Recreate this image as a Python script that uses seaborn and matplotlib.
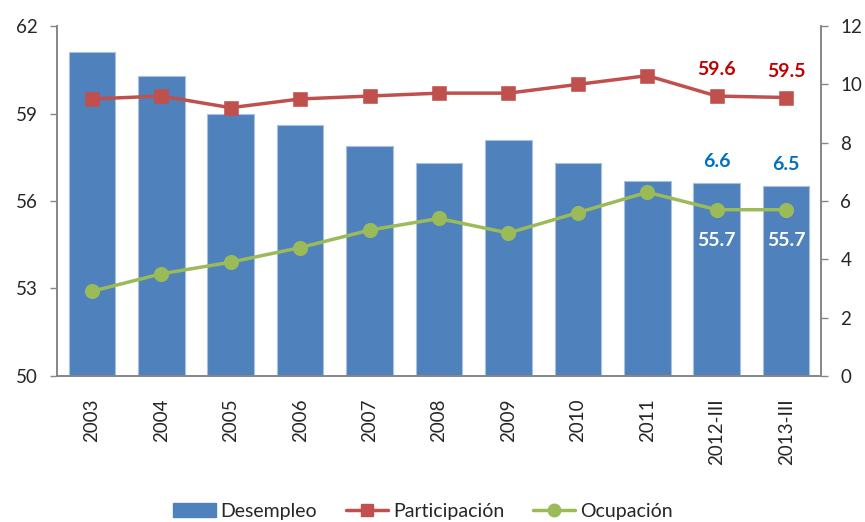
import numpy as np
import pandas as pd
import matplotlib
matplotlib.use("Agg")
import matplotlib.pyplot as plt
from matplotlib.patches import Patch
from matplotlib.lines import Line2D
import seaborn as sns

# Data
categories = ["2003", "2004", "2005", "2006", "2007", "2008", "2009",
              "2010", "2011", "2012-III", "2013-III"]
desempleo = [11.1, 10.3, 9.0, 8.6, 7.9, 7.3, 8.1, 7.3, 6.7, 6.6, 6.5]
participacion = [59.5, 59.6, 59.2, 59.5, 59.6, 59.7, 59.7, 60.0, 60.3, 59.6, 59.55]
ocupacion = [52.9, 53.5, 53.9, 54.4, 55.0, 55.4, 54.9, 55.6, 56.3, 55.7, 55.7]

left_ticks = [50, 53, 56, 59, 62]
right_ticks = [0, 2, 4, 6, 8, 10, 12]

# labels shown on the last two periods
label_idx = [9, 10]
label_part = ["59.6", "59.5"]
label_des = ["6.6", "6.5"]
label_ocu = ["55.7", "55.7"]

BLUE = "#4F81BD"
RED = "#C0504D"
GREEN = "#9BBB59"
GRAY = "#868686"

df = pd.DataFrame({"periodo": categories, "Desempleo": desempleo,
                   "Participacion": participacion, "Ocupacion": ocupacion})

sns.set_style("white")
plt.rcParams["font.family"] = ["Lato", "DejaVu Sans"]

fig = plt.figure(figsize=(8.65, 5.22), dpi=100)
ax = fig.add_axes([0.066, 0.280, 0.883, 0.670])

# bars on the right-hand axis (0-12)
sns.barplot(data=df, x="periodo", y="Desempleo", color=BLUE, saturation=1,
            width=0.67, edgecolor="#A9C1DF", linewidth=0.8, ax=ax)

# lines on the left-hand axis (50-62)
ax2 = ax.twinx()
sns.pointplot(data=df, x="periodo", y="Participacion", color=RED,
              markers="s", markersize=9, linewidth=2.5, ax=ax2)
sns.pointplot(data=df, x="periodo", y="Ocupacion", color=GREEN,
              markers="o", markersize=9, linewidth=2.5, ax=ax2)

ax.set_ylim(0, 12)
ax.set_yticks(right_ticks)
ax.yaxis.tick_right()
ax2.set_ylim(50, 62)
ax2.set_yticks(left_ticks)
ax2.yaxis.tick_left()

for a in (ax, ax2):
    a.set_xlim(-0.5, len(categories) - 0.5)
    a.set_xlabel("")
    a.set_ylabel("")
    a.spines["top"].set_visible(False)
    for s in ("left", "right", "bottom"):
        a.spines[s].set_color(GRAY)
        a.spines[s].set_linewidth(1.2)
    a.tick_params(axis="y", direction="out", length=5, width=1, color=GRAY,
                  labelsize=13.5, pad=9)
    a.grid(False)

# category labels, tick marks between categories
ax.set_xticks(range(len(categories)))
ax.set_xticklabels(categories, rotation=90, fontsize=13.5)
ax.set_xticks(np.arange(-0.5, len(categories)), minor=True)
ax.tick_params(axis="x", which="major", length=0, pad=16)
ax.tick_params(axis="x", which="minor", length=5, width=1, color=GRAY, direction="out")
ax2.tick_params(axis="x", which="both", length=0, labelbottom=False)

# data labels
for k, i in enumerate(label_idx):
    ax2.annotate(label_part[k], (i, participacion[i]), xytext=(0, 19),
                 textcoords="offset points", ha="center", va="center",
                 color="#C00000", fontsize=14, fontweight="bold")
    ax.annotate(label_des[k], (i, desempleo[i]), xytext=(0, 16),
                textcoords="offset points", ha="center", va="center",
                color="#0070C0", fontsize=14, fontweight="bold")
    ax2.annotate(label_ocu[k], (i, ocupacion[i]), xytext=(0, -22),
                 textcoords="offset points", ha="center", va="center",
                 color="white", fontsize=14, fontweight="bold")

handles = [
    Patch(facecolor=BLUE, edgecolor=BLUE, label="Desempleo"),
    Line2D([0], [0], color=RED, lw=2.5, marker="s", markersize=9, label="Participación"),
    Line2D([0], [0], color=GREEN, lw=2.5, marker="o", markersize=9, label="Ocupación"),
]
fig.legend(handles=handles, loc="center", bbox_to_anchor=(0.489, 0.021), ncol=3,
           frameon=False, fontsize=14, handlelength=2.2, handleheight=0.7,
           handletextpad=0.25, columnspacing=1.45)

fig.savefig("out.png", dpi=100)
